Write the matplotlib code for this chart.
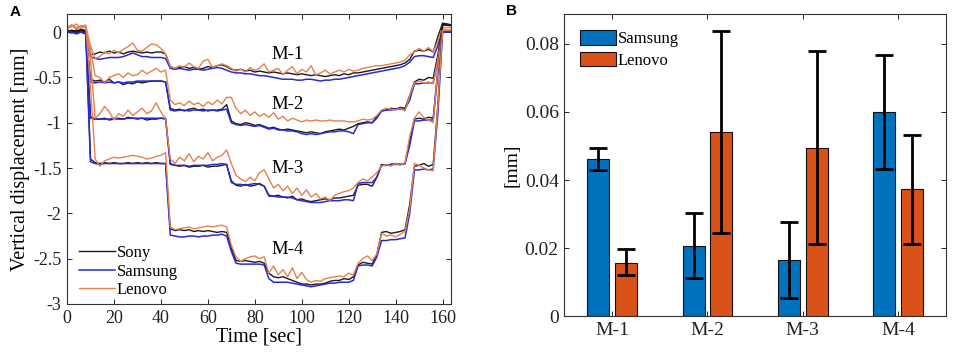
import numpy as np
import matplotlib
matplotlib.use("Agg")
import matplotlib.pyplot as plt

plt.rcParams['font.family'] = ['Liberation Serif', 'DejaVu Serif']
plt.rcParams['axes.unicode_minus'] = False

# ---- panel A: vertical displacement time series ----
time_s = [0, 2, 4, 6, 8,
          10, 12, 14, 16, 18, 20, 22, 24, 26, 28, 30, 32, 34, 36, 38, 40, 42,
          44, 46, 48, 50, 52, 54, 56, 58, 60, 62, 64, 66, 68,
          70, 72, 74, 76, 78, 80, 82, 84,
          86, 88, 90, 92, 94, 96, 98, 100, 102, 104, 106, 108, 110, 112, 114, 116, 118, 120, 122,
          124, 126, 128, 130, 132,
          134, 136, 138, 140, 142, 144, 146,
          148, 150, 152, 154, 156,
          158, 160, 164]

m1_sony = [0.01, 0.02, 0.00, 0.03, 0.02,
           -0.25, -0.24, -0.22, -0.23, -0.21, -0.23, -0.22, -0.24, -0.22, -0.21, -0.22, -0.23, -0.22, -0.23, -0.22, -0.22, -0.24,
           -0.38, -0.40, -0.39, -0.38, -0.40, -0.39, -0.41, -0.40, -0.38, -0.39, -0.37, -0.36, -0.38,
           -0.41, -0.42, -0.41, -0.43, -0.42, -0.44, -0.43, -0.44,
           -0.45, -0.44, -0.45, -0.46, -0.45, -0.46, -0.47, -0.46, -0.47, -0.48, -0.47, -0.48, -0.49, -0.48, -0.47, -0.48, -0.46, -0.47, -0.45,
           -0.45, -0.44, -0.43, -0.42, -0.41,
           -0.40, -0.39, -0.38, -0.37, -0.36, -0.34, -0.30,
           -0.21, -0.20, -0.21, -0.19, -0.22,
           -0.05, 0.10, 0.08]
m1_samsung = [0.00, 0.01, -0.01, 0.02, 0.00,
              -0.27, -0.29, -0.30, -0.29, -0.28, -0.28, -0.28, -0.27, -0.25, -0.23, -0.25, -0.27, -0.27, -0.28, -0.28, -0.28, -0.29,
              -0.40, -0.41, -0.40, -0.41, -0.42, -0.41, -0.41, -0.42, -0.41, -0.40, -0.39, -0.40, -0.42,
              -0.44, -0.45, -0.45, -0.46, -0.46, -0.47, -0.48, -0.48,
              -0.49, -0.50, -0.51, -0.52, -0.52, -0.52, -0.53, -0.53, -0.52, -0.52, -0.53, -0.54, -0.53, -0.53, -0.52, -0.52, -0.51, -0.50, -0.49,
              -0.48, -0.47, -0.46, -0.45, -0.44,
              -0.43, -0.42, -0.41, -0.40, -0.39, -0.37, -0.33,
              -0.27, -0.26, -0.26, -0.27, -0.28,
              -0.15, 0.02, 0.00]
m1_lenovo = [0.03, 0.07, 0.04, 0.07, 0.05,
             -0.15, -0.29, -0.27, -0.22, -0.24, -0.20, -0.23, -0.19, -0.16, -0.12, -0.20, -0.21, -0.17, -0.13, -0.14, -0.18, -0.24,
             -0.38, -0.40, -0.37, -0.39, -0.34, -0.38, -0.40, -0.32, -0.30, -0.39, -0.37, -0.35, -0.37,
             -0.40, -0.43, -0.41, -0.44, -0.39, -0.42, -0.40, -0.35,
             -0.44, -0.42, -0.40, -0.47, -0.42, -0.38, -0.46, -0.41, -0.44, -0.37, -0.47, -0.45, -0.42, -0.46, -0.44, -0.42, -0.44, -0.41, -0.43,
             -0.42, -0.40, -0.39, -0.38, -0.37,
             -0.37, -0.36, -0.35, -0.34, -0.33, -0.31, -0.25,
             -0.22, -0.18, -0.21, -0.17, -0.22,
             -0.10, 0.05, 0.05]

m2_sony = [0.00, 0.02, 0.01, 0.03, 0.00,
           -0.52, -0.54, -0.53, -0.55, -0.52, -0.56, -0.55, -0.58, -0.56, -0.57, -0.55, -0.56, -0.55, -0.54, -0.54, -0.54, -0.55,
           -0.84, -0.86, -0.85, -0.87, -0.85, -0.84, -0.86, -0.85, -0.87, -0.86, -0.86, -0.85, -0.80,
           -0.98, -1.01, -1.02, -1.00, -1.01, -1.03, -1.02, -1.04,
           -1.06, -1.05, -1.07, -1.08, -1.07, -1.08, -1.09, -1.10, -1.11, -1.10, -1.11, -1.12, -1.10, -1.09, -1.08, -1.07, -1.08, -1.06, -1.04,
           -1.01, -1.00, -0.99, -1.00, -0.93,
           -0.87, -0.86, -0.84, -0.85, -0.83, -0.84, -0.70,
           -0.55, -0.52, -0.53, -0.50, -0.51,
           -0.25, 0.08, 0.07]
m2_samsung = [0.00, -0.01, 0.01, 0.00, -0.02,
              -0.55, -0.56, -0.55, -0.56, -0.55, -0.56, -0.55, -0.56, -0.55, -0.55, -0.54, -0.54, -0.54, -0.54, -0.54, -0.54, -0.55,
              -0.86, -0.87, -0.86, -0.86, -0.87, -0.86, -0.86, -0.87, -0.86, -0.86, -0.87, -0.86, -0.85,
              -1.00, -1.02, -1.03, -1.02, -1.03, -1.04, -1.03, -1.05,
              -1.07, -1.06, -1.08, -1.08, -1.09, -1.09, -1.10, -1.12, -1.13, -1.12, -1.13, -1.12, -1.11, -1.10, -1.10, -1.09, -1.09, -1.10, -1.12,
              -1.02, -1.01, -1.00, -1.00, -0.95,
              -0.87, -0.86, -0.86, -0.85, -0.85, -0.85, -0.75,
              -0.57, -0.57, -0.56, -0.56, -0.56,
              -0.30, 0.00, 0.00]
m2_lenovo = [0.05, 0.08, 0.03, 0.06, 0.08,
             -0.20, -0.48, -0.50, -0.56, -0.50, -0.48, -0.46, -0.50, -0.45, -0.48, -0.47, -0.42, -0.46, -0.43, -0.40, -0.44, -0.42,
             -0.75, -0.80, -0.78, -0.81, -0.76, -0.80, -0.78, -0.82, -0.77, -0.80, -0.75, -0.79, -0.72,
             -0.72, -0.84, -0.90, -0.86, -0.92, -0.88, -0.93, -0.90,
             -0.94, -0.89, -0.96, -0.93, -0.98, -0.95, -0.97, -0.99, -0.97, -0.98, -0.97, -0.98, -0.98, -0.97, -0.98, -0.98, -0.98, -0.99, -0.99,
             -0.98, -0.96, -0.97, -0.96, -0.92,
             -0.86, -0.84, -0.85, -0.86, -0.84, -0.87, -0.70,
             -0.56, -0.54, -0.56, -0.55, -0.57,
             -0.30, 0.03, 0.02]

m3_sony = [0.01, 0.00, 0.02, 0.01, -0.01,
           -0.93, -0.96, -0.96, -0.95, -0.97, -0.96, -0.95, -0.96, -0.94, -0.95, -0.96, -0.95, -0.97, -0.96, -0.96, -0.95, -0.96,
           -1.45, -1.47, -1.48, -1.47, -1.49, -1.48, -1.48, -1.47, -1.49, -1.48, -1.48, -1.47, -1.46,
           -1.64, -1.69, -1.70, -1.68, -1.70, -1.69, -1.67, -1.70,
           -1.80, -1.81, -1.80, -1.82, -1.83, -1.81, -1.85, -1.84, -1.86, -1.87, -1.86, -1.85, -1.84, -1.85, -1.83, -1.83, -1.82, -1.81, -1.80,
           -1.69, -1.68, -1.68, -1.70, -1.60,
           -1.46, -1.47, -1.46, -1.45, -1.46, -1.45, -1.20,
           -0.96, -0.95, -0.96, -0.94, -0.95,
           -0.40, 0.08, 0.08]
m3_samsung = [0.00, 0.00, -0.01, 0.01, -0.02,
              -0.95, -0.96, -0.96, -0.96, -0.96, -0.95, -0.96, -0.96, -0.95, -0.95, -0.95, -0.95, -0.95, -0.95, -0.95, -0.95, -0.95,
              -1.46, -1.47, -1.47, -1.47, -1.48, -1.47, -1.47, -1.47, -1.47, -1.46, -1.46, -1.45, -1.46,
              -1.66, -1.68, -1.68, -1.69, -1.68, -1.67, -1.68, -1.70,
              -1.81, -1.81, -1.82, -1.82, -1.82, -1.83, -1.85, -1.86, -1.87, -1.88, -1.88, -1.88, -1.87, -1.86, -1.86, -1.86, -1.85, -1.85, -1.86,
              -1.67, -1.66, -1.66, -1.66, -1.60,
              -1.47, -1.47, -1.46, -1.46, -1.46, -1.45, -1.25,
              -0.98, -0.98, -0.97, -0.97, -0.97,
              -0.45, 0.00, 0.00]
m3_lenovo = [0.04, 0.08, 0.05, 0.07, 0.06,
             -0.30, -0.95, -0.90, -0.82, -0.88, -0.97, -0.90, -0.93, -0.86, -0.92, -0.88, -0.84, -0.90, -0.87, -0.78, -0.88, -0.96,
             -1.40, -1.45, -1.38, -1.42, -1.34, -1.43, -1.37, -1.40, -1.33, -1.42, -1.38, -1.36, -1.30,
             -1.45, -1.58, -1.62, -1.65, -1.60, -1.64, -1.55, -1.52,
             -1.62, -1.72, -1.68, -1.75, -1.70, -1.78, -1.72, -1.80, -1.74, -1.82, -1.78, -1.84, -1.82, -1.86, -1.80, -1.78, -1.76, -1.75, -1.72,
             -1.66, -1.62, -1.64, -1.60, -1.55,
             -1.48, -1.46, -1.48, -1.45, -1.47, -1.44, -1.15,
             -0.95, -0.88, -0.94, -0.97, -1.00,
             -0.40, 0.02, 0.02]

m4_sony = [0.02, 0.01, 0.00, 0.02, 0.00,
           -1.40, -1.44, -1.45, -1.44, -1.45, -1.44, -1.45, -1.45, -1.44, -1.45, -1.44, -1.45, -1.44, -1.45, -1.44, -1.45, -1.45,
           -2.17, -2.19, -2.18, -2.19, -2.18, -2.20, -2.19, -2.20, -2.19, -2.20, -2.21, -2.20, -2.21,
           -2.38, -2.52, -2.53, -2.52, -2.53, -2.54, -2.53, -2.55,
           -2.66, -2.70, -2.71, -2.70, -2.72, -2.74, -2.76, -2.78, -2.78, -2.79, -2.78, -2.78, -2.77, -2.75, -2.74, -2.74, -2.72, -2.73, -2.70,
           -2.57, -2.54, -2.55, -2.56, -2.45,
           -2.21, -2.20, -2.22, -2.21, -2.20, -2.18, -1.90,
           -1.48, -1.47, -1.45, -1.48, -1.46,
           -0.80, 0.08, 0.08]
m4_samsung = [0.00, 0.00, -0.02, 0.00, -0.02,
              -1.43, -1.45, -1.46, -1.45, -1.45, -1.45, -1.45, -1.45, -1.45, -1.45, -1.45, -1.45, -1.45, -1.45, -1.45, -1.45, -1.45,
              -2.24, -2.25, -2.26, -2.26, -2.25, -2.25, -2.26, -2.25, -2.25, -2.24, -2.24, -2.23, -2.25,
              -2.42, -2.55, -2.56, -2.56, -2.56, -2.56, -2.56, -2.57,
              -2.72, -2.76, -2.76, -2.76, -2.76, -2.77, -2.78, -2.79, -2.80, -2.81, -2.80, -2.79, -2.78, -2.77, -2.77, -2.76, -2.76, -2.76, -2.74,
              -2.58, -2.57, -2.57, -2.58, -2.48,
              -2.30, -2.30, -2.29, -2.29, -2.28, -2.27, -2.00,
              -1.52, -1.52, -1.51, -1.52, -1.51,
              -0.90, 0.00, 0.00]
m4_lenovo = [0.05, 0.06, 0.09, 0.04, 0.07,
             -0.60, -1.40, -1.48, -1.42, -1.40, -1.38, -1.39, -1.38, -1.37, -1.36, -1.37, -1.38, -1.40, -1.39, -1.37, -1.36, -1.33,
             -2.15, -2.18, -2.17, -2.16, -2.15, -2.17, -2.16, -2.15, -2.14, -2.15, -2.14, -2.13, -2.15,
             -2.35, -2.48, -2.53, -2.50, -2.48, -2.47, -2.50, -2.48,
             -2.66, -2.58, -2.68, -2.62, -2.70, -2.60, -2.72, -2.65, -2.73, -2.76, -2.74, -2.75, -2.72, -2.71, -2.70, -2.69, -2.70, -2.66, -2.68,
             -2.55, -2.50, -2.47, -2.52, -2.45,
             -2.22, -2.25, -2.24, -2.26, -2.23, -2.20, -1.95,
             -1.45, -1.47, -1.50, -1.52, -1.53,
             -0.80, 0.02, 0.02]

level_names = ['M-1', 'M-2', 'M-3', 'M-4']
label_pos = [(94, -0.25), (94, -0.80), (94, -1.50), (94, -2.40)]

# ---- panel B: error per device and level ----
samsung_mean = [0.0461, 0.0206, 0.0164, 0.0600]
samsung_low = [0.0428, 0.0112, 0.0053, 0.0433]
samsung_high = [0.0494, 0.0302, 0.0277, 0.0767]
lenovo_mean = [0.0157, 0.0541, 0.0495, 0.0373]
lenovo_low = [0.0120, 0.0244, 0.0211, 0.0213]
lenovo_high = [0.0196, 0.0839, 0.0778, 0.0532]

c_sony = '#1a1a1a'
c_samsung = '#2a2ad2'
c_lenovo = '#e5814f'
c_bar_blue = '#0072BD'
c_bar_orange = '#D95319'

fig = plt.figure(figsize=(9.57, 3.61), dpi=100)
ax1 = fig.add_axes([0.0700, 0.1579, 0.4013, 0.8033])
ax2 = fig.add_axes([0.5897, 0.1241, 0.3986, 0.8385])


def style_axes(ax):
    for s in ax.spines.values():
        s.set_color('#333333')
        s.set_linewidth(0.8)
    ax.tick_params(direction='in', top=True, right=True, length=3.5, width=0.7,
                   labelsize=13, colors='#222222', pad=4)


groups = [(m1_sony, m1_samsung, m1_lenovo),
          (m2_sony, m2_samsung, m2_lenovo),
          (m3_sony, m3_samsung, m3_lenovo),
          (m4_sony, m4_samsung, m4_lenovo)]
for k, (sony, samsung, lenovo) in enumerate(groups):
    ax1.plot(time_s, sony, color=c_sony, lw=1.0, label='Sony' if k == 0 else None)
    ax1.plot(time_s, samsung, color=c_samsung, lw=1.1, label='Samsung' if k == 0 else None)
    ax1.plot(time_s, lenovo, color=c_lenovo, lw=1.0, label='Lenovo' if k == 0 else None)
    ax1.text(label_pos[k][0], label_pos[k][1], level_names[k], fontsize=13.5,
             ha='center', va='center')

ax1.set_xlim(0, 163.6)
ax1.set_ylim(-3, 0.2)
ax1.set_xticks(range(0, 161, 20))
ax1.set_yticks([0, -0.5, -1, -1.5, -2, -2.5, -3])
ax1.set_yticklabels(['0', '-0.5', '-1', '-1.5', '-2', '-2.5', '-3'])
ax1.set_xlabel('Time [sec]', fontsize=14.5, labelpad=1)
ax1.set_ylabel('Vertical displacement [mm]', fontsize=14.5, labelpad=2)
style_axes(ax1)
ax1.legend(loc='lower left', bbox_to_anchor=(0.03, 0.02), frameon=False, fontsize=12,
           handlelength=2.2, handletextpad=0.1, labelspacing=0.15, borderpad=0,
           borderaxespad=0)

x = np.arange(1, len(level_names) + 1)
w = 0.23
off = 0.145
s_err = [np.array(samsung_mean) - np.array(samsung_low), np.array(samsung_high) - np.array(samsung_mean)]
l_err = [np.array(lenovo_mean) - np.array(lenovo_low), np.array(lenovo_high) - np.array(lenovo_mean)]
ax2.bar(x - off, samsung_mean, w, color=c_bar_blue, edgecolor='#111111', lw=0.8, label='Samsung')
ax2.bar(x + off, lenovo_mean, w, color=c_bar_orange, edgecolor='#111111', lw=0.8, label='Lenovo')
ax2.errorbar(x - off, samsung_mean, yerr=s_err, fmt='none', ecolor='black', elinewidth=2,
             capsize=6.3, capthick=2)
ax2.errorbar(x + off, lenovo_mean, yerr=l_err, fmt='none', ecolor='black', elinewidth=2,
             capsize=6.3, capthick=2)
ax2.set_xlim(0.5, 4.5)
ax2.set_ylim(0, 0.0889)
ax2.set_xticks(x)
ax2.set_xticklabels(level_names)
ax2.set_yticks([0, 0.02, 0.04, 0.06, 0.08])
ax2.set_yticklabels(['0', '0.02', '0.04', '0.06', '0.08'])
ax2.set_ylabel('[mm]', fontsize=14, labelpad=3)
style_axes(ax2)
ax2.tick_params(labelsize=14)
ax2.legend(loc='upper left', bbox_to_anchor=(0.04, 0.945), frameon=False, fontsize=12,
           handlelength=2.2, handleheight=0.95, handletextpad=0.1, labelspacing=0.28,
           borderpad=0, borderaxespad=0)

fig.text(10 / 957, 1 - 12 / 361, 'A', fontsize=11, fontweight='bold',
         family='Liberation Sans', va='center')
fig.text(506 / 957, 1 - 11 / 361, 'B', fontsize=11, fontweight='bold',
         family='Liberation Sans', va='center')

fig.savefig('out.png', dpi=100)
